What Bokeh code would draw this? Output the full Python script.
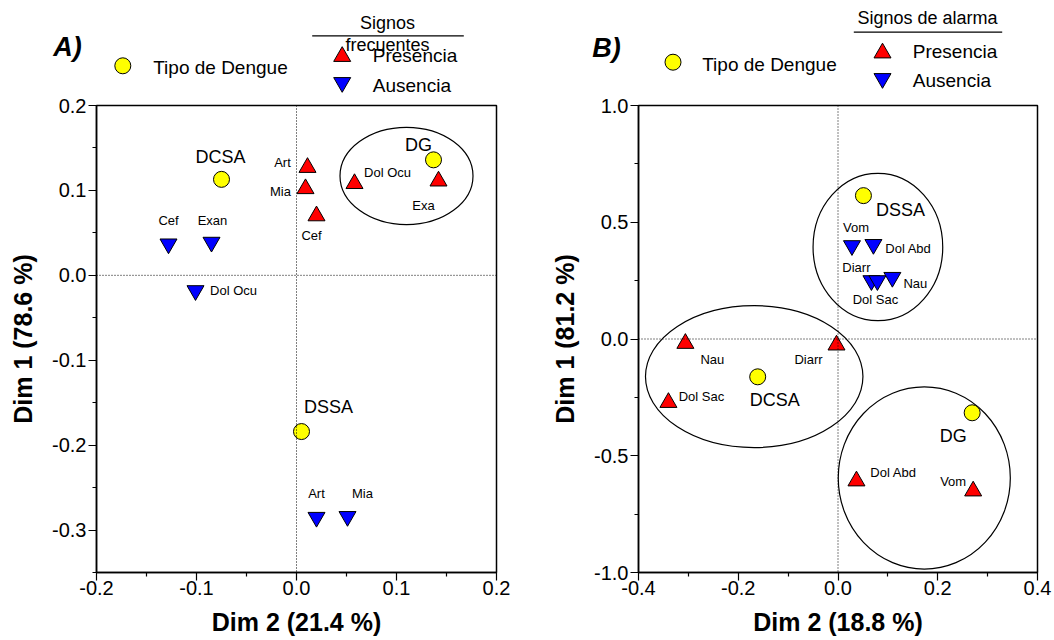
from bokeh.plotting import figure
from bokeh.models import Range1d, FixedTicker, PrintfTickFormatter, Span
from bokeh.layouts import column, row
from bokeh.embed import file_html
from bokeh.resources import INLINE
from bokeh.core.properties import value

FONT = "Liberation Sans"

# ---------------- Panel A data (Dim 2 = x, Dim 1 = y) ----------------
a_types = ["DCSA", "DG", "DSSA"]
a_types_x = [-0.075, 0.137, 0.005]
a_types_y = [0.113, 0.136, -0.184]

a_pres_labels = ["Art", "Mia", "Cef", "Dol Ocu", "Exa"]
a_pres_x = [0.011, 0.009, 0.020, 0.058, 0.142]
a_pres_y = [0.127, 0.102, 0.070, 0.108, 0.111]

a_aus_labels = ["Cef", "Exan", "Dol Ocu", "Art", "Mia"]
a_aus_x = [-0.128, -0.085, -0.101, 0.020, 0.051]
a_aus_y = [0.037, 0.039, -0.018, -0.285, -0.284]

a_group_x = [0.110]
a_group_y = [0.117]
a_group_w = [0.133]
a_group_h = [0.1145]

a_xticks = [-0.2, -0.1, 0.0, 0.1, 0.2]
a_yticks = [-0.3, -0.2, -0.1, 0.0, 0.1, 0.2]

# ---------------- Panel B data ----------------
b_types = ["DCSA", "DG", "DSSA"]
b_types_x = [-0.161, 0.269, 0.051]
b_types_y = [-0.162, -0.316, 0.614]

b_pres_labels = ["Nau", "Diarr", "Dol Sac", "Dol Abd", "Vom"]
b_pres_x = [-0.306, -0.003, -0.340, 0.037, 0.271]
b_pres_y = [-0.019, -0.026, -0.272, -0.608, -0.651]

b_aus_labels = ["Vom", "Dol Abd", "Diarr", "Dol Sac", "Nau"]
b_aus_x = [0.028, 0.071, 0.067, 0.079, 0.109]
b_aus_y = [0.400, 0.405, 0.250, 0.250, 0.264]

b_group_x = [-0.168, 0.173, 0.080]
b_group_y = [-0.161, -0.595, 0.394]
b_group_w = [0.436, 0.345, 0.260]
b_group_h = [0.608, 0.781, 0.631]

b_xticks = [-0.4, -0.2, 0.0, 0.2, 0.4]
b_yticks = [-1.0, -0.5, 0.0, 0.5, 1.0]

# ---------------- label offsets (screen px, layout only) ----------------
a_types_off = [(-1, -22), (-15, -15), (27, -25)]
a_pres_off = [(-25, -5), (-25, 3), (-5, 20), (33, -11), (-15, 24)]
a_aus_off = [(0, -23), (1, -22), (38, 0), (0, -24), (15, -23)]

b_types_off = [(17, 23), (-19, 23), (37, 14)]
b_pres_off = [(27, 16), (-28, 14), (33, -6), (37, -8), (-20, -10)]
b_aus_off = [(4, -18), (35, 4), (-15, -13), (-2, 19), (23, 6)]

YELLOW = "#FFFF00"
RED = "#FF0000"
BLUE = "#0000FF"

HEADER_H = 96
PANEL_H = 544


def labels(p, xs, ys, texts, offs, size):
    p.text(x=xs, y=ys, text=texts,
           x_offset=[o[0] for o in offs], y_offset=[o[1] for o in offs],
           text_font=value(FONT), text_font_size=size, text_color="black",
           text_align="center", text_baseline="middle")


def make_panel(width, bl, br, xr, yr, xt, xminor, yt, yminor, xlab, ylab):
    p = figure(width=width, height=PANEL_H, x_range=Range1d(*xr), y_range=Range1d(*yr),
               output_backend="svg", toolbar_location=None,
               min_border_left=bl, min_border_right=br, min_border_top=9,
               min_border_bottom=68, background_fill_color="white",
               border_fill_color="white")
    p.grid.visible = False
    p.outline_line_color = "black"
    p.outline_line_width = 1.5
    p.xaxis.ticker = FixedTicker(ticks=xt, minor_ticks=xminor)
    p.yaxis.ticker = FixedTicker(ticks=yt, minor_ticks=yminor)
    for ax in (p.xaxis, p.yaxis):
        ax.formatter = PrintfTickFormatter(format="%.1f")
        ax.axis_line_color = "black"
        ax.axis_line_width = 1.5
        ax.major_tick_line_color = "black"
        ax.major_tick_line_width = 1.2
        ax.minor_tick_line_color = "black"
        ax.minor_tick_line_width = 1.2
        ax.major_tick_in = 0
        ax.major_tick_out = 8
        ax.minor_tick_in = 0
        ax.minor_tick_out = 4
        ax.major_label_text_font = FONT
        ax.major_label_text_font_size = "20px"
        ax.major_label_text_color = "black"
        ax.axis_label_text_font = FONT
        ax.axis_label_text_font_size = "25px"
        ax.axis_label_text_font_style = "bold"
        ax.axis_label_text_color = "black"
    p.xaxis.major_label_standoff = 0
    p.xaxis.axis_label_standoff = 10
    p.yaxis.major_label_standoff = 2
    p.yaxis.axis_label_standoff = 12
    p.xaxis.axis_label = xlab
    p.yaxis.axis_label = ylab
    p.add_layout(Span(location=0, dimension="height", line_color="black",
                      line_width=1, line_dash="1 2"))
    p.add_layout(Span(location=0, dimension="width", line_color="black",
                      line_width=1, line_dash="1 2"))
    return p


def draw(p, gx, gy, gw, gh, tx, ty, tl, toff, px_, py_, pl, poff, ax_, ay_, al, aoff):
    p.ellipse(x=gx, y=gy, width=gw, height=gh, fill_alpha=0,
              line_color="black", line_width=1.2)
    p.scatter(x=px_, y=py_, marker="triangle", size=17, fill_color=RED,
              line_color="black", line_width=1)
    p.scatter(x=ax_, y=ay_, marker="inverted_triangle", size=17, fill_color=BLUE,
              line_color="black", line_width=1)
    p.scatter(x=tx, y=ty, marker="circle", size=16, fill_color=YELLOW,
              line_color="black", line_width=1)
    labels(p, tx, ty, tl, toff, "18px")
    labels(p, px_, py_, pl, poff, "13px")
    labels(p, ax_, ay_, al, aoff, "13px")


pa = make_panel(548, 96, 52, (-0.2, 0.2), (-0.35, 0.2),
                a_xticks, [-0.15, -0.05, 0.05, 0.15],
                a_yticks, [-0.35, -0.25, -0.15, -0.05, 0.05, 0.15],
                "Dim 2 (21.4 %)", "Dim 1 (78.6 %)")
draw(pa, a_group_x, a_group_y, a_group_w, a_group_h,
     a_types_x, a_types_y, a_types, a_types_off,
     a_pres_x, a_pres_y, a_pres_labels, a_pres_off,
     a_aus_x, a_aus_y, a_aus_labels, a_aus_off)

pb = make_panel(504, 89, 15, (-0.4, 0.4), (-1.0, 1.0),
                b_xticks, [-0.3, -0.1, 0.1, 0.3],
                b_yticks, [-0.75, -0.25, 0.25, 0.75],
                "Dim 2 (18.8 %)", "Dim 1 (81.2 %)")
draw(pb, b_group_x, b_group_y, b_group_w, b_group_h,
     b_types_x, b_types_y, b_types, b_types_off,
     b_pres_x, b_pres_y, b_pres_labels, b_pres_off,
     b_aus_x, b_aus_y, b_aus_labels, b_aus_off)

# ---------------- header with legends (page-pixel coordinates) ----------------
h = figure(width=1052, height=HEADER_H, x_range=Range1d(0, 1052),
           y_range=Range1d(HEADER_H, 0),
           output_backend="svg", toolbar_location=None,
           x_axis_location=None, y_axis_location=None,
           min_border=0, outline_line_color=None)
h.grid.visible = False

panel_tags = ["A)", "B)"]
h.text(x=[67, 606], y=[46, 47], text=panel_tags, text_font=value(FONT),
       text_font_size="27px", text_font_style="bold italic", text_color="black",
       text_align="center", text_baseline="middle")

h.scatter(x=[122.3, 672.5], y=[65.3, 61.7], marker="circle", size=16,
          fill_color=YELLOW, line_color="black", line_width=1)
h.scatter(x=[341.7, 882], y=[56, 52.5], marker="triangle", size=17,
          fill_color=RED, line_color="black", line_width=1)
h.scatter(x=[341.7, 882], y=[82, 78], marker="inverted_triangle", size=17,
          fill_color=BLUE, line_color="black", line_width=1)

legend_left = ["Tipo de Dengue", "Presencia", "Ausencia",
               "Tipo de Dengue", "Presencia", "Ausencia"]
h.text(x=[152.7, 372.3, 372.3, 701.7, 912.3, 912.3],
       y=[67, 55, 85, 64, 51, 79.5],
       text=legend_left, text_font=value(FONT), text_font_size="19px",
       text_color="black", text_align="left", text_baseline="middle")

legend_heads = ["Signos", "frecuentes", "Signos de alarma"]
h.text(x=[387, 387, 927], y=[22, 44, 17.5], text=legend_heads,
       text_font=value(FONT), text_font_size="18px", text_color="black",
       text_align="center", text_baseline="middle")
h.segment(x0=[311.7, 853.3], y0=[35.3, 31.7], x1=[463.3, 1001.7], y1=[35.3, 31.7],
          line_color="black", line_width=1.2)

layout = column(h, row(pa, pb))
open("out.html", "w").write(file_html(layout, INLINE))
